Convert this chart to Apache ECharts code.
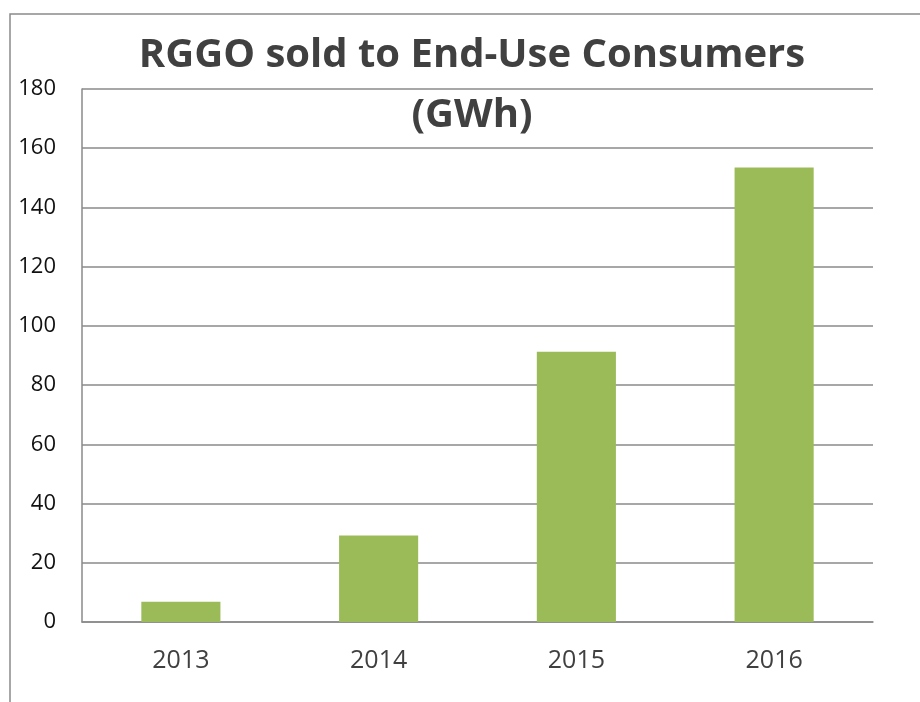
<!DOCTYPE html>
<html>
<head>
<meta charset="utf-8">
<script src="https://cdn.jsdelivr.net/npm/echarts@6/dist/echarts.min.js"></script>
<style>html,body{margin:0;padding:0;background:#fff;}#c{width:920px;height:702px;}</style>
</head>
<body>
<div id="c"></div>
<script>
const titleText = 'RGGO sold to End-Use Consumers\n(GWh)';
const categories = ['2013', '2014', '2015', '2016'];
const values = [6.8, 29.2, 91.3, 153.5];
const yMin = 0, yMax = 180, yInterval = 20;

const chart = echarts.init(document.getElementById('c'), null, {renderer: 'canvas'});
chart.setOption({
  animation: false,
  backgroundColor: '#ffffff',
  graphic: [{
    type: 'rect',
    shape: {x: 10, y: 14, width: 1000, height: 1000},
    style: {fill: 'none', stroke: '#8a8a8a', lineWidth: 1.5},
    silent: true, z: -1
  }],
  title: {
    text: titleText,
    left: 467, top: 21, textAlign: 'center',
    textStyle: {fontFamily: 'Open Sans', fontWeight: 'bold', fontSize: 40, lineHeight: 60, color: '#404040'}
  },
  grid: {left: 82, right: 47, top: 89, bottom: 80, containLabel: false},
  xAxis: {
    type: 'category',
    data: categories,
    axisLine: {show: true, lineStyle: {color: '#8a8a8a', width: 1.5}},
    axisTick: {show: false},
    axisLabel: {fontFamily: 'Open Sans', fontSize: 25, color: '#404040', margin: 26}
  },
  yAxis: {
    type: 'value',
    min: yMin, max: yMax, interval: yInterval,
    axisLine: {show: true, lineStyle: {color: '#8a8a8a', width: 1.5}},
    axisTick: {show: false},
    splitLine: {show: true, lineStyle: {color: '#8a8a8a', width: 1.5}},
    axisLabel: {fontFamily: 'Open Sans', fontSize: 22, color: '#111111', margin: 26}
  },
  series: [{
    type: 'bar',
    data: values,
    barWidth: '40%',
    itemStyle: {color: '#9BBB59'}
  }]
});
</script>
</body>
</html>
